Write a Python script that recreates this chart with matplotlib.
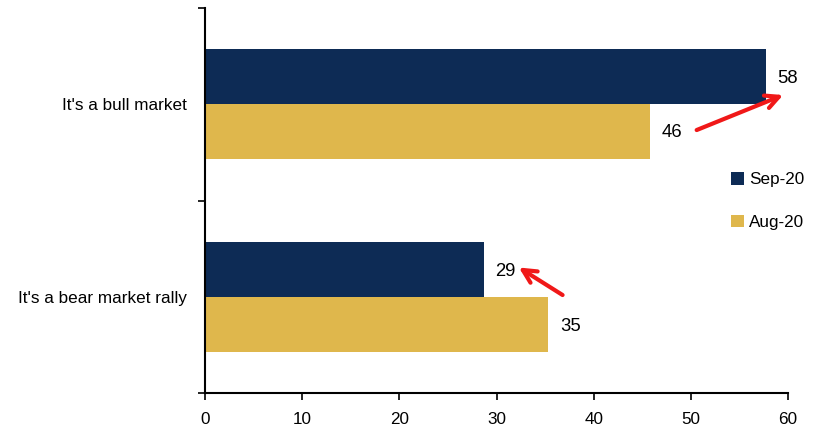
import matplotlib.pyplot as plt
import numpy as np

plt.rcParams['font.family'] = ['Liberation Sans Narrow', 'Liberation Sans', 'DejaVu Sans']

categories = ["It's a bear market rally", "It's a bull market"]
sep_20 = [28.7, 57.7]
aug_20 = [35.3, 45.8]
series_names = ['Sep-20', 'Aug-20']
x_ticks = [0, 10, 20, 30, 40, 50, 60]

navy = '#0D2B55'
gold = '#DFB74C'
fs = 12.3

fig = plt.figure(figsize=(8.23, 4.36), dpi=100)
ax = fig.add_axes([205 / 823, 43 / 436, 583 / 823, 385 / 436])

y = np.arange(len(categories))
h = 0.286
ax.barh(y + h / 2, sep_20, height=h, color=navy, label=series_names[0])
ax.barh(y - h / 2, aug_20, height=h, color=gold, label=series_names[1])

ax.set_xlim(0, 60)
ax.set_ylim(-0.5, 1.5)
ax.set_xticks(x_ticks)
ax.set_yticks(y)
ax.set_yticklabels(categories, fontsize=fs)
ax.set_yticks([-0.5, 0.5, 1.5], minor=True)
ax.tick_params(axis='y', which='major', length=0, pad=13)
ax.tick_params(axis='y', which='minor', length=5, width=1.2, direction='out')
ax.tick_params(axis='x', labelsize=fs, length=5, width=1.2, direction='out', pad=9)
for s in ['top', 'right']:
    ax.spines[s].set_visible(False)
for s in ['left', 'bottom']:
    ax.spines[s].set_linewidth(1.5)

# value labels
ax.text(sep_20[1] + 2.3, 1.136, f'{sep_20[1]:.0f}', fontsize=fs + 1, ha='center', va='center')
ax.text(aug_20[1] + 2.3, 0.851, f'{aug_20[1]:.0f}', fontsize=fs + 1, ha='center', va='center')
ax.text(sep_20[0] + 2.2, 0.129, f'{sep_20[0]:.0f}', fontsize=fs + 1, ha='center', va='center')
ax.text(aug_20[0] + 2.3, -0.152, f'{aug_20[0]:.0f}', fontsize=fs + 1, ha='center', va='center')

# red arrows showing change from Aug to Sep
ax.annotate('', xy=(59.5, 1.048), xytext=(50.6, 0.866),
            arrowprops=dict(arrowstyle='->', color='#F01818', lw=3,
                            mutation_scale=24, shrinkA=0, shrinkB=0))
ax.annotate('', xy=(32.3, 0.152), xytext=(36.8, 0.009),
            arrowprops=dict(arrowstyle='->', color='#F01818', lw=3,
                            mutation_scale=24, shrinkA=0, shrinkB=0))

ax.legend(loc='center left', bbox_to_anchor=(731 / 823, (436 - 201) / 436),
          bbox_transform=fig.transFigure, frameon=False, fontsize=fs,
          handlelength=0.75, handleheight=0.75, handletextpad=0.3,
          labelspacing=1.6, borderaxespad=0, borderpad=0)

fig.savefig('out.png', dpi=100)
